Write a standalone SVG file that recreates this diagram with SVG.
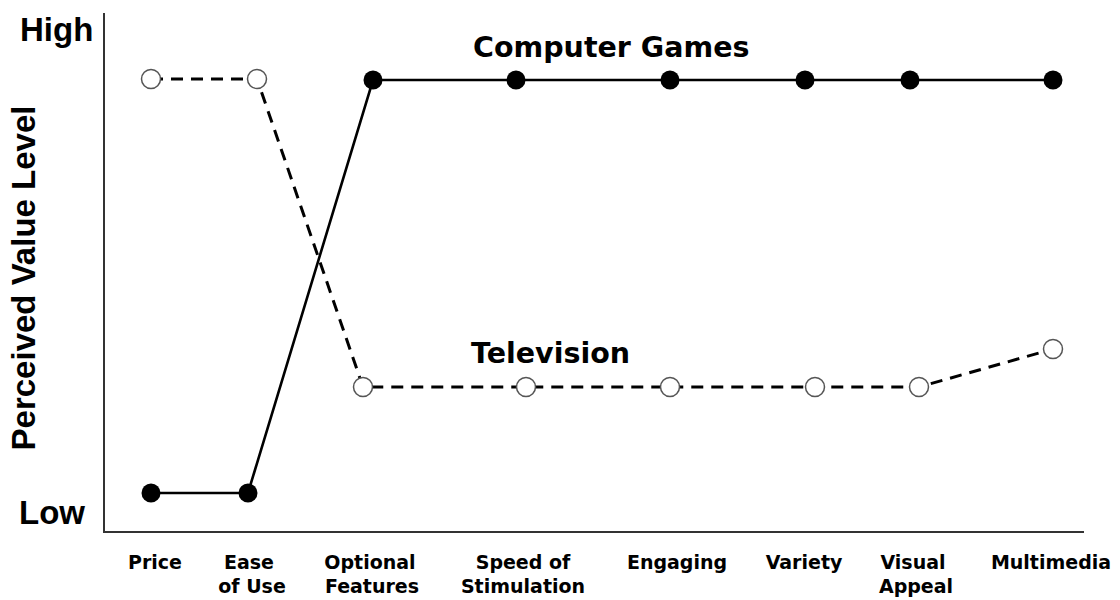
<svg xmlns="http://www.w3.org/2000/svg" width="1120" height="600" viewBox="0 0 1120 600">
  <style>
    .axis { stroke: #333; stroke-width: 2; fill: none; }
    .games { stroke: #000; stroke-width: 2.6; fill: none; }
    .tv { stroke: #000; stroke-width: 3; fill: none; stroke-dasharray: 12 8; }
    .dot-games { fill: #000; }
    .dot-tv { fill: #fff; stroke: #555; stroke-width: 1.5; }
    .level { font-family: "Liberation Sans", Arial, sans-serif; font-weight: bold; font-size: 33px; fill: #000; }
    .series { font-family: "DejaVu Sans", Verdana, sans-serif; font-weight: bold; font-size: 28.5px; fill: #000; }
    .cat { font-family: "DejaVu Sans", Verdana, sans-serif; font-weight: bold; font-size: 19px; fill: #000; text-anchor: middle; }
  </style>
  <rect width="1120" height="600" fill="#fff"/>

  <!-- axes -->
  <g id="axes">
    <path class="axis" d="M104 13 V532 H1084"/>
  </g>

  <!-- axis labels -->
  <g id="y-labels">
    <text class="level" x="20" y="41">High</text>
    <text class="level" x="19" y="524">Low</text>
    <text class="level" transform="translate(35 278) rotate(-90)" text-anchor="middle">Perceived Value Level</text>
  </g>

  <!-- connectors -->
  <g id="connectors">
    <polyline id="tv-line" class="tv" points="151,79 257,79 363,387 526,387 670,387 815,387 919,387 1053,349"/>
    <polyline id="games-line" class="games" points="151,493 248,493 373,80 516,80 670,80 805,80 910,80 1053,80"/>
  </g>

  <!-- Television nodes -->
  <g id="tv-price"><circle class="dot-tv" cx="151" cy="79" r="9.5"/></g>
  <g id="tv-ease"><circle class="dot-tv" cx="257" cy="79" r="9.5"/></g>
  <g id="tv-optional"><circle class="dot-tv" cx="363" cy="387" r="9.5"/></g>
  <g id="tv-speed"><circle class="dot-tv" cx="526" cy="387" r="9.5"/></g>
  <g id="tv-engaging"><circle class="dot-tv" cx="670" cy="387" r="9.5"/></g>
  <g id="tv-variety"><circle class="dot-tv" cx="815" cy="387" r="9.5"/></g>
  <g id="tv-visual"><circle class="dot-tv" cx="919" cy="387" r="9.5"/></g>
  <g id="tv-multimedia"><circle class="dot-tv" cx="1053" cy="349" r="9.5"/></g>

  <!-- Computer Games nodes -->
  <g id="games-price"><circle class="dot-games" cx="151" cy="493" r="9.5"/></g>
  <g id="games-ease"><circle class="dot-games" cx="248" cy="493" r="9.5"/></g>
  <g id="games-optional"><circle class="dot-games" cx="373" cy="80" r="9.5"/></g>
  <g id="games-speed"><circle class="dot-games" cx="516" cy="80" r="9.5"/></g>
  <g id="games-engaging"><circle class="dot-games" cx="670" cy="80" r="9.5"/></g>
  <g id="games-variety"><circle class="dot-games" cx="805" cy="80" r="9.5"/></g>
  <g id="games-visual"><circle class="dot-games" cx="910" cy="80" r="9.5"/></g>
  <g id="games-multimedia"><circle class="dot-games" cx="1053" cy="80" r="9.5"/></g>

  <!-- series names -->
  <g id="series-labels">
    <text class="series" x="473" y="57">Computer Games</text>
    <text class="series" x="471" y="363">Television</text>
  </g>

  <!-- categories -->
  <g id="categories">
    <text class="cat" x="155" y="569">Price</text>
    <text class="cat" x="249" y="569">Ease</text>
    <text class="cat" x="252" y="593">of Use</text>
    <text class="cat" x="370" y="569">Optional</text>
    <text class="cat" x="372" y="593">Features</text>
    <text class="cat" x="523" y="569">Speed of</text>
    <text class="cat" x="523" y="593">Stimulation</text>
    <text class="cat" x="677" y="569">Engaging</text>
    <text class="cat" x="804" y="569">Variety</text>
    <text class="cat" x="913" y="569">Visual</text>
    <text class="cat" x="916" y="593">Appeal</text>
    <text class="cat" x="1051" y="569">Multimedia</text>
  </g>
</svg>
